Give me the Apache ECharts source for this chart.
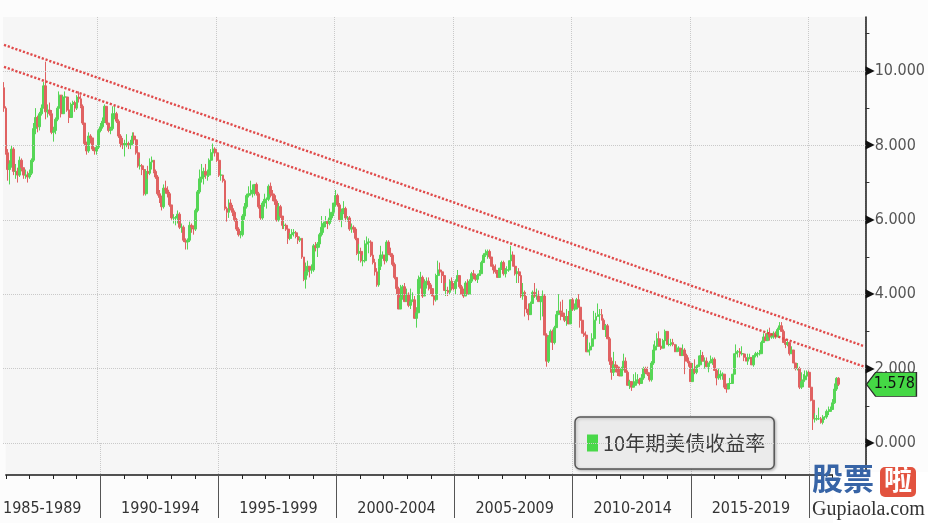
<!DOCTYPE html>
<html><head><meta charset="utf-8">
<script src="https://cdn.jsdelivr.net/npm/echarts@6/dist/echarts.min.js"></script>
<style>html,body{margin:0;padding:0;background:#fcfcfc;}#c{width:928px;height:523px;}</style>
</head><body><div id="c"></div>
<script>
// ---------------- DATA (monthly candles, 1986-01 .. 2021-04) ----------------
const seriesName = '10年期美债收益率';
const firstYear = 1986, lastYear = 2022, lastMonth = 5;   // axis span
const open0 = 9.55;                                       // open of the first candle
const close = [
 9.00,7.80,7.35,7.50,7.90,7.30,7.30,7.20,7.60,7.40,7.20,7.20,
 7.15,7.25,7.60,8.45,8.75,8.50,8.85,9.00,9.60,8.90,8.95,8.85,
 8.35,8.40,8.70,9.00,9.35,8.85,9.30,9.30,8.95,8.75,9.10,9.15,
 9.00,9.30,9.25,9.05,8.60,8.05,7.85,8.25,8.20,7.90,7.85,7.95,
 8.40,8.50,8.65,9.05,8.60,8.40,8.45,8.85,8.85,8.65,8.25,8.05,
 8.00,8.05,8.05,8.00,8.05,8.25,8.15,7.80,7.45,7.45,7.35,6.70,
 7.30,7.25,7.55,7.60,7.30,7.15,6.70,6.60,6.35,6.85,6.80,6.70,
 6.40,6.05,6.05,6.05,6.15,5.80,5.80,5.45,5.40,5.45,5.85,5.80,
 5.75,6.25,6.75,7.10,7.15,7.30,7.20,7.20,7.60,7.80,7.90,7.80,
 7.60,7.20,7.20,7.05,6.30,6.20,6.45,6.30,6.20,6.00,5.75,5.60,
 5.60,6.10,6.35,6.65,6.70,6.70,6.80,6.95,6.70,6.35,6.05,6.45,
 6.55,6.55,6.90,6.70,6.65,6.50,6.00,6.35,6.10,5.85,5.85,5.75,
 5.50,5.60,5.65,5.65,5.55,5.45,5.50,5.00,4.40,4.60,4.75,4.65,
 4.65,5.30,5.25,5.35,5.60,5.80,5.90,5.95,5.90,6.05,6.20,6.45,
 6.65,6.40,6.00,6.20,6.30,6.05,6.05,5.75,5.80,5.75,5.50,5.10,
 5.15,4.90,4.90,5.35,5.40,5.40,5.05,4.85,4.60,4.25,4.75,5.05,
 5.05,4.90,5.40,5.10,5.05,4.80,4.45,4.15,3.60,3.90,4.20,3.80,
 4.00,3.70,3.80,3.85,3.35,3.50,4.40,4.45,3.95,4.30,4.35,4.25,
 4.15,3.95,3.85,4.50,4.65,4.60,4.50,4.10,4.10,4.05,4.35,4.20,
 4.15,4.35,4.50,4.20,4.00,3.95,4.30,4.00,4.35,4.55,4.50,4.40,
 4.50,4.55,4.85,5.05,5.10,5.15,5.00,4.75,4.65,4.60,4.45,4.70,
 4.85,4.55,4.65,4.65,4.90,5.05,4.75,4.55,4.60,4.50,3.95,4.05,
 3.60,3.50,3.45,3.75,4.05,3.95,3.95,3.80,3.80,3.95,2.90,2.20,
 2.85,3.00,2.70,3.10,3.45,3.55,3.50,3.40,3.30,3.40,3.20,3.85,
 3.60,3.60,3.85,3.65,3.30,2.95,2.90,2.45,2.50,2.60,2.80,3.30,
 3.40,3.45,3.45,3.30,3.05,3.15,2.80,2.20,1.90,2.10,2.05,1.90,
 1.80,2.00,2.20,1.90,1.55,1.65,1.50,1.55,1.65,1.70,1.60,1.75,
 2.00,1.90,1.85,1.70,2.15,2.50,2.60,2.80,2.60,2.55,2.75,3.00,
 2.65,2.65,2.70,2.65,2.45,2.55,2.55,2.35,2.50,2.35,2.20,2.15,
 1.65,2.00,1.90,2.05,2.10,2.35,2.20,2.20,2.05,2.15,2.20,2.25,
 1.95,1.75,1.80,1.85,1.85,1.50,1.45,1.60,1.60,1.85,2.40,2.45,
 2.45,2.40,2.40,2.30,2.20,2.30,2.30,2.10,2.35,2.40,2.40,2.40,
 2.70,2.85,2.75,2.95,2.85,2.85,2.95,2.85,3.05,3.15,3.00,2.70,
 2.65,2.70,2.40,2.50,2.15,2.00,2.00,1.50,1.65,1.70,1.80,1.90,
 1.50,1.15,0.65,0.65,0.65,0.65,0.55,0.70,0.70,0.85,0.85,0.90,
 1.08,1.45,1.74,1.578
];
const high = [
 9.70,9.05,7.90,7.60,8.00,7.95,7.50,7.40,7.70,7.65,7.40,7.35,
 7.30,7.35,7.65,8.60,9.00,8.80,8.90,9.10,9.70,10.25,9.10,9.15,
 8.95,8.50,8.75,9.05,9.45,9.35,9.35,9.45,9.30,8.95,9.15,9.20,
 9.20,9.35,9.45,9.35,9.10,8.60,8.10,8.35,8.30,8.20,7.95,8.00,
 8.45,8.60,8.75,9.10,9.05,8.60,8.50,9.05,9.05,8.90,8.70,8.30,
 8.20,8.15,8.30,8.10,8.15,8.35,8.35,8.15,7.85,7.65,7.50,7.40,
 7.35,7.45,7.65,7.70,7.60,7.35,7.20,6.80,6.65,6.95,7.05,6.90,
 6.75,6.40,6.15,6.10,6.25,6.20,5.90,5.85,5.50,5.50,5.95,5.90,
 5.85,6.30,6.80,7.35,7.50,7.40,7.50,7.35,7.65,7.90,8.05,7.95,
 7.90,7.60,7.35,7.20,7.10,6.35,6.55,6.55,6.40,6.25,6.05,5.80,
 5.70,6.15,6.45,6.70,6.90,7.05,6.95,6.95,7.00,6.75,6.40,6.50,
 6.70,6.60,6.95,7.00,6.80,6.70,6.55,6.45,6.40,6.10,5.95,5.90,
 5.80,5.65,5.75,5.75,5.70,5.60,5.55,5.50,5.00,4.85,4.90,4.75,
 4.80,5.35,5.40,5.40,5.65,6.10,5.95,6.10,6.00,6.30,6.20,6.45,
 6.80,6.70,6.45,6.30,6.50,6.35,6.10,6.10,5.90,5.85,5.80,5.55,
 5.35,5.25,5.05,5.45,5.55,5.50,5.45,5.10,4.95,4.70,4.95,5.30,
 5.15,5.05,5.45,5.45,5.25,5.10,4.85,4.45,4.20,4.25,4.25,4.30,
 4.15,4.05,4.15,4.05,3.95,3.65,4.50,4.60,4.50,4.40,4.45,4.45,
 4.30,4.20,4.00,4.55,4.90,4.85,4.60,4.55,4.30,4.20,4.40,4.45,
 4.30,4.40,4.65,4.50,4.25,4.15,4.35,4.40,4.40,4.60,4.65,4.55,
 4.55,4.65,4.90,5.10,5.20,5.20,5.20,5.00,4.80,4.80,4.65,4.70,
 4.90,4.90,4.70,4.75,4.90,5.30,5.15,4.85,4.70,4.70,4.55,4.30,
 4.10,3.95,3.75,3.80,4.10,4.30,4.15,4.10,3.95,4.10,4.00,2.95,
 2.90,3.05,3.05,3.15,3.55,4.00,3.80,3.85,3.50,3.60,3.55,3.85,
 3.90,3.75,3.90,4.00,3.75,3.35,3.10,3.00,2.80,2.70,2.95,3.55,
 3.50,3.75,3.60,3.60,3.35,3.20,3.20,2.85,2.30,2.45,2.20,2.10,
 2.05,2.05,2.40,2.30,1.95,1.70,1.65,1.85,1.90,1.85,1.75,1.85,
 2.05,2.05,2.05,1.90,2.20,2.65,2.75,2.95,3.00,2.75,2.80,3.05,
 3.00,2.80,2.80,2.80,2.65,2.65,2.60,2.55,2.65,2.55,2.40,2.30,
 2.15,2.15,2.25,2.10,2.35,2.50,2.45,2.30,2.30,2.15,2.35,2.30,
 2.30,2.00,2.00,1.95,1.90,1.85,1.60,1.60,1.75,1.85,2.40,2.65,
 2.50,2.55,2.60,2.40,2.40,2.40,2.40,2.30,2.35,2.45,2.45,2.50,
 2.75,2.95,2.95,3.05,3.10,2.95,3.00,3.00,3.10,3.25,3.25,3.05,
 2.80,2.75,2.70,2.60,2.50,2.15,2.15,2.05,1.90,1.85,1.95,1.95,
 1.95,1.65,1.20,0.80,0.75,0.95,0.70,0.75,0.72,0.90,0.98,0.98,
 1.18,1.60,1.77,1.77
];
const low = [
 8.90,7.75,7.05,6.95,7.40,7.20,7.10,7.00,7.15,7.30,7.10,7.10,
 7.00,7.10,7.20,7.55,8.30,8.35,8.40,8.80,9.00,8.70,8.75,8.80,
 8.30,8.10,8.30,8.65,8.95,8.75,8.85,9.15,8.90,8.60,8.75,9.00,
 8.90,8.95,9.15,9.00,8.55,8.00,7.75,7.80,8.05,7.85,7.75,7.75,
 7.90,8.35,8.45,8.60,8.55,8.35,8.30,8.40,8.70,8.60,8.20,7.95,
 7.90,7.70,7.95,7.90,7.90,8.00,8.05,7.75,7.40,7.35,7.20,6.65,
 6.65,7.10,7.20,7.35,7.25,7.10,6.65,6.45,6.25,6.30,6.70,6.60,
 6.35,6.00,5.90,5.85,5.90,5.75,5.65,5.40,5.20,5.20,5.40,5.65,
 5.60,5.70,6.20,6.70,7.00,6.95,7.10,7.05,7.15,7.50,7.70,7.70,
 7.55,7.15,7.05,7.00,6.25,5.95,6.05,6.25,6.10,5.95,5.70,5.55,
 5.50,5.55,6.00,6.30,6.60,6.65,6.60,6.65,6.65,6.30,6.00,6.00,
 6.35,6.30,6.50,6.60,6.50,6.40,5.95,5.95,6.05,5.75,5.75,5.70,
 5.35,5.45,5.50,5.55,5.50,5.35,5.40,4.95,4.35,4.15,4.50,4.45,
 4.55,4.60,5.15,5.00,5.25,5.55,5.65,5.80,5.75,5.85,5.95,6.10,
 6.35,6.35,5.95,5.80,6.15,5.95,5.95,5.70,5.65,5.65,5.45,5.05,
 4.90,4.85,4.75,4.85,5.30,5.10,5.00,4.80,4.50,4.20,4.20,4.65,
 4.95,4.80,4.85,5.05,5.00,4.75,4.40,4.00,3.60,3.60,3.85,3.80,
 3.80,3.65,3.60,3.80,3.35,3.10,3.50,4.15,3.90,3.95,4.15,4.10,
 4.00,3.95,3.70,3.80,4.45,4.55,4.30,4.10,3.95,3.95,4.00,4.10,
 4.10,4.00,4.35,4.15,4.00,3.90,3.95,4.00,4.00,4.30,4.40,4.35,
 4.30,4.50,4.55,4.85,5.00,4.95,4.95,4.75,4.55,4.55,4.45,4.45,
 4.65,4.50,4.45,4.60,4.60,4.85,4.75,4.50,4.30,4.30,3.90,3.85,
 3.40,3.50,3.30,3.45,3.75,3.90,3.85,3.80,3.30,3.40,2.90,2.05,
 2.15,2.70,2.50,2.65,3.10,3.45,3.30,3.40,3.25,3.15,3.20,3.20,
 3.55,3.55,3.60,3.65,3.10,2.95,2.85,2.45,2.45,2.35,2.55,2.80,
 3.30,3.40,3.20,3.30,3.05,2.85,2.80,2.10,1.70,1.80,1.90,1.80,
 1.80,1.80,1.95,1.90,1.55,1.45,1.40,1.50,1.55,1.60,1.55,1.60,
 1.70,1.85,1.80,1.65,1.65,2.10,2.45,2.55,2.60,2.50,2.55,2.70,
 2.65,2.60,2.60,2.60,2.45,2.45,2.45,2.35,2.35,1.85,2.20,2.05,
 1.65,1.65,1.85,1.85,2.05,2.10,2.20,2.00,2.05,1.90,2.15,2.10,
 1.95,1.55,1.70,1.70,1.70,1.45,1.35,1.45,1.55,1.60,1.80,2.30,
 2.30,2.30,2.35,2.20,2.20,2.10,2.25,2.10,2.05,2.30,2.30,2.35,
 2.40,2.70,2.75,2.75,2.75,2.80,2.80,2.80,2.85,3.05,3.00,2.70,
 2.55,2.60,2.35,2.40,2.15,1.95,1.95,1.45,1.45,1.50,1.70,1.75,
 1.50,1.12,0.35,0.55,0.60,0.62,0.52,0.50,0.62,0.65,0.75,0.85,
 0.90,1.05,1.40,1.53
];
const periodLabels = ['1985-1989','1990-1994','1995-1999','2000-2004','2005-2009','2010-2014','2015-2019'];
const periodStarts = [1985,1990,1995,2000,2005,2010,2015];
const boundaryYears = [1990,1995,2000,2005,2010,2015,2020];
const yTicks = [0,2,4,6,8,10];
const trendStart = [10.70, 10.11];   // dotted resistance lines, value at left edge
const trendEnd   = [2.60, 2.05];     // value at right edge
const lastValue = close[close.length - 1];

// ---------------- BUILD ----------------
const categories = [];
for (let y = firstYear; y <= lastYear; y++) {
  for (let m = 1; m <= 12; m++) {
    if (y === lastYear && m > lastMonth) break;
    categories.push(y + '-' + (m < 10 ? '0' : '') + m);
  }
}
const idxOf = (year, month) => (year - firstYear) * 12 + (month - 1);
const candles = close.map((c, i) => [i ? close[i - 1] : open0, c, low[i], high[i]]);
const boundarySet = new Set(boundaryYears.map(y => idxOf(y, 1)));
const labelMap = {};
periodStarts.forEach((y, k) => { labelMap[idxOf(y + 2, 7)] = periodLabels[k]; });
const lastCat = categories[categories.length - 1];

const NARROW = "'Liberation Sans Narrow','DejaVu Sans Condensed',sans-serif";
const UP = '#56d656', DOWN = '#e06262';

const chart = echarts.init(document.getElementById('c'), null, {renderer: 'canvas'});
chart.setOption({
  animation: false,
  backgroundColor: '#fcfcfc',
  grid: [
    {left: 3, right: 62, top: 17, height: 426, show: true, backgroundColor: '#f6f6f6', borderWidth: 0},
    {left: 3, right: 62, top: 443, height: 32, show: true, backgroundColor: '#f6f6f6', borderWidth: 0}
  ],
  xAxis: [
    {type: 'category', gridIndex: 0, data: categories, boundaryGap: true,
     axisLine: {show: false}, axisTick: {show: false}, axisLabel: {show: false},
     splitLine: {show: true, interval: (i) => boundarySet.has(i), lineStyle: {color: '#c9c9c9', type: 'dotted', width: 1}}},
    {type: 'category', gridIndex: 1, data: categories, boundaryGap: true, position: 'bottom',
     axisLine: {show: true, lineStyle: {color: '#1a1a1a', width: 1.5}},
     axisTick: {show: true, interval: (i) => i % 12 === 0, length: 4, lineStyle: {color: '#222', width: 1}},
     axisLabel: {show: true, interval: (i) => labelMap[i] !== undefined, formatter: (v, i) => labelMap[i] || '',
       margin: 26, fontSize: 16, color: '#333', fontFamily: NARROW},
     splitLine: {show: true, interval: (i) => boundarySet.has(i), lineStyle: {color: '#c9c9c9', type: 'dotted', width: 1}}},
    {type: 'category', gridIndex: 1, data: categories, boundaryGap: true, position: 'bottom',
     axisLine: {show: false}, axisLabel: {show: false}, splitLine: {show: false},
     axisTick: {show: true, interval: (i) => boundarySet.has(i), length: 43, lineStyle: {color: '#555', width: 1}}}
  ],
  yAxis: [
    {type: 'value', gridIndex: 0, position: 'right', min: 0, max: 11.45, interval: 1,
     axisLine: {show: true, lineStyle: {color: '#1a1a1a', width: 1.5}},
     axisTick: {show: true, length: 4, lineStyle: {color: '#333'}},
     splitLine: {show: false},
     axisLabel: {show: true, margin: 0, showMinLabel: true, showMaxLabel: false,
       formatter: (v) => yTicks.indexOf(v) >= 0 ? '{t|▶}{v|' + v.toFixed(3) + '}' : '',
       rich: {t: {fontSize: 12, color: '#111', fontFamily: 'DejaVu Sans'},
              v: {fontSize: 16, color: '#555', fontFamily: NARROW}}}},
    {type: 'value', gridIndex: 1, position: 'right', min: 0, max: 1,
     axisLine: {show: true, lineStyle: {color: '#1a1a1a', width: 1.5}},
     axisTick: {show: false}, axisLabel: {show: false}, splitLine: {show: false}}
  ],
  legend: {
    left: 575, top: 417, selectedMode: false,
    data: [{name: seriesName, icon: 'rect', itemStyle: {color: '#49d849', borderWidth: 0}}],
    itemWidth: 11, itemHeight: 17, itemGap: 4,
    backgroundColor: '#ebebeb', borderColor: '#555', borderWidth: 1.5, borderRadius: 5,
    padding: [16, 9, 16, 12],
    shadowColor: 'rgba(0,0,0,0.25)', shadowBlur: 3, shadowOffsetX: 1, shadowOffsetY: 1,
    textStyle: {fontSize: 20, color: '#3c3c3c', fontFamily: "'Noto Sans CJK SC'"}
  },
  series: [
    {type: 'line', name: 'grid', xAxisIndex: 0, yAxisIndex: 0, data: [], z: 1, silent: true,
     markLine: {silent: true, symbol: ['none', 'none'], label: {show: false},
       lineStyle: {color: '#c9c9c9', type: 'dotted', width: 1},
       data: yTicks.map(v => ({yAxis: v}))}},
    {type: 'candlestick', name: seriesName, xAxisIndex: 0, yAxisIndex: 0, data: candles, z: 2,
     barWidth: 2.4,
     itemStyle: {color: UP, color0: DOWN, borderColor: UP, borderColor0: DOWN, borderWidth: 1},
     markPoint: {silent: true,
       symbol: 'path://M0,12 L9,0 L49,0 L49,24 L9,24 Z', symbolSize: [50, 24], symbolOffset: [27, 0],
       itemStyle: {color: '#45d845', borderColor: '#2b2b2b', borderWidth: 1},
       label: {show: true, position: 'inside', offset: [3, 0], formatter: lastValue.toFixed(3),
         color: '#111', fontSize: 16, fontFamily: NARROW},
       data: [{coord: [lastCat, lastValue]}]}},
    {type: 'line', name: 'trend', xAxisIndex: 0, yAxisIndex: 0, data: [], z: 3, silent: true,
     markLine: {silent: true, symbol: ['none', 'none'], label: {show: false},
       lineStyle: {color: '#e04a4a', type: [2.2, 1.8], width: 2.4},
       data: trendStart.map((s, k) => [{coord: [categories[0], s]}, {coord: [lastCat, trendEnd[k]]}])}}
  ],
  graphic: [
    {type: 'rect', left: 833, top: 472, shape: {width: 95, height: 51}, style: {fill: '#ffffff'}, z: 100, silent: true},
    {type: 'text', left: 812, top: 463, z: 101, silent: true,
     style: {text: '股票', font: "bold 31px 'Noto Sans CJK SC'", fill: '#3764a6'}},
    {type: 'rect', left: 880, top: 467, shape: {width: 36, height: 30, r: 5}, style: {fill: '#e2533f'}, z: 101, silent: true},
    {type: 'text', left: 884, top: 465, z: 102, silent: true,
     style: {text: '啦', font: "bold 28px 'Noto Sans CJK SC'", fill: '#ffffff'}},
    {type: 'text', left: 812, top: 500, z: 101, silent: true,
     style: {text: 'Gupiaola.com', font: "20px 'Liberation Serif'", fill: '#333333'}}
  ]
});
</script>
</body></html>
